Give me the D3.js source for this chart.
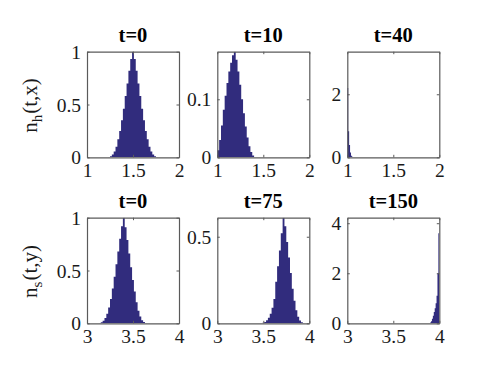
<!DOCTYPE html>
<html><head><meta charset="utf-8">
<script src="https://cdn.jsdelivr.net/npm/d3@7"></script>
<style>body{margin:0;background:#fff}svg{display:block}</style>
</head><body>
<script>
// ---- data ----
const titles = ["t=0","t=10","t=40","t=0","t=75","t=150"];
const yLabels = ["h","s"];
const yLabelArgs = ["(t,x)","(t,y)"];
const xDomains = [[1,2],[1,2],[1,2],[3,4],[3,4],[3,4]];
const yMax = [1, 0.182, 3.35, 1, 0.61, 4.22];
const xTicks = [[1,1.5,2],[1,1.5,2],[1,1.5,2],[3,3.5,4],[3,3.5,4],[3,3.5,4]];
const yTicks = [[0,0.5,1],[0,0.1],[0,2],[0,0.5,1],[0,0.5],[0,2,4]];
const binWidth = [0.02, 0.02, 0.01, 0.02, 0.02, 0.01];

// bin centres and heights for each panel
const h0X = [1.24,1.26,1.28,1.30,1.32,1.34,1.36,1.38,1.40,1.42,1.44,1.46,1.48,1.50,1.52,1.54,1.56,1.58,1.60,1.62,1.64,1.66,1.68,1.70,1.72,1.74,1.76];
const h0V = [0.004,0.011,0.027,0.055,0.10,0.17,0.25,0.35,0.46,0.58,0.70,0.82,0.93,1.0,0.93,0.82,0.70,0.58,0.46,0.35,0.25,0.17,0.10,0.055,0.027,0.011,0.004];
const h10X = [1.01,1.03,1.05,1.07,1.09,1.11,1.13,1.15,1.17,1.19,1.21,1.23,1.25,1.27,1.29,1.31,1.33,1.35,1.37,1.39];
const h10V = [0.012,0.030,0.055,0.082,0.106,0.128,0.148,0.163,0.176,0.182,0.168,0.148,0.125,0.100,0.076,0.053,0.034,0.019,0.009,0.003];
const h40X = [1.005,1.015,1.025,1.035,1.045,1.055];
const h40V = [2.2,0.83,0.39,0.15,0.05,0.015];
const s0X = [3.14,3.16,3.18,3.20,3.22,3.24,3.26,3.28,3.30,3.32,3.34,3.36,3.38,3.40,3.42,3.44,3.46,3.48,3.50,3.52,3.54,3.56,3.58,3.60,3.62,3.64];
const s0V = [0.004,0.01,0.025,0.05,0.09,0.15,0.23,0.33,0.44,0.56,0.68,0.80,0.92,1.0,0.91,0.79,0.66,0.53,0.41,0.30,0.20,0.12,0.065,0.03,0.012,0.004];
const s75X = [3.50,3.52,3.54,3.56,3.58,3.60,3.62,3.64,3.66,3.68,3.70,3.72,3.74,3.76,3.78,3.80,3.82,3.84,3.86,3.88,3.90,3.92,3.94];
const s75V = [0.003,0.008,0.017,0.032,0.055,0.09,0.14,0.24,0.33,0.42,0.52,0.61,0.56,0.47,0.38,0.29,0.20,0.13,0.075,0.038,0.016,0.006,0.002];
const s150X = [3.905,3.915,3.925,3.935,3.945,3.955,3.965,3.975,3.985,3.995];
const s150V = [0.03,0.08,0.18,0.30,0.45,0.60,0.80,1.1,2.0,3.6];

const seriesX = [h0X,h10X,h40X,s0X,s75X,s150X];
const seriesV = [h0V,h10V,h40V,s0V,s75V,s150V];

// ---- layout ----
const W = 494, H = 375;
const colX = [87, 217.3, 347.3];
const rowY = [51.7, 217.7];
const pw = 92, ph = 105.6;
const fill = "#312c7d";
const axisCol = "#5a5a5a";
const font = "Liberation Serif, Times New Roman, serif";

const svg = d3.select("body").append("svg").attr("width", W).attr("height", H)
  .style("font-family", font);

for (let i = 0; i < 6; i++) {
  const r = Math.floor(i / 3), c = i % 3;
  const x0 = colX[c], y0 = rowY[r];
  const x = d3.scaleLinear().domain(xDomains[i]).range([x0, x0 + pw]);
  const y = d3.scaleLinear().domain([0, yMax[i]]).range([y0 + ph, y0]);
  const g = svg.append("g");

  g.append("rect").attr("x", x0).attr("y", y0).attr("width", pw).attr("height", ph).attr("fill", "#fff");

  const clipId = "clip" + i;
  svg.append("clipPath").attr("id", clipId).append("rect")
    .attr("x", x0).attr("y", y0).attr("width", pw).attr("height", ph);

  // stepped histogram outline from the bins
  const bw = binWidth[i];
  const pts = [];
  seriesX[i].forEach((cx, k) => {
    pts.push([cx - bw / 2, seriesV[i][k]]);
    pts.push([cx + bw / 2, seriesV[i][k]]);
  });
  const area = d3.area().x(d => x(d[0])).y0(y(0)).y1(d => y(d[1]));
  g.append("path").attr("clip-path", `url(#${clipId})`)
    .attr("d", area(pts)).attr("fill", fill);

  // axes (ticks inward, mirrored on top/right)
  const tl = 2.5;
  const axB = d3.axisBottom(x).tickValues(xTicks[i]).tickSizeInner(-tl).tickSizeOuter(0).tickPadding(6).tickFormat(d3.format("~g"));
  const axT = d3.axisTop(x).tickValues(xTicks[i]).tickSizeInner(-tl).tickSizeOuter(0).tickFormat("");
  const axL = d3.axisLeft(y).tickValues(yTicks[i]).tickSizeInner(-tl).tickSizeOuter(0).tickPadding(6).tickFormat(d3.format("~g"));
  const axR = d3.axisRight(y).tickValues(yTicks[i]).tickSizeInner(-tl).tickSizeOuter(0).tickFormat("");

  const gb = g.append("g").attr("transform", `translate(0,${y0 + ph})`).call(axB);
  const gt = g.append("g").attr("transform", `translate(0,${y0})`).call(axT);
  const gl = g.append("g").attr("transform", `translate(${x0},0)`).call(axL);
  const gr = g.append("g").attr("transform", `translate(${x0 + pw},0)`).call(axR);
  [gb, gt, gl, gr].forEach(a => {
    a.attr("font-family", null).attr("font-size", null);
    a.select(".domain").attr("stroke", axisCol).attr("stroke-width", 1.2);
    a.selectAll(".tick line").attr("stroke", axisCol);
    a.selectAll("text").style("font-family", font).style("font-size", "19.5px").attr("fill", "#1a1a1a");
  });
  gb.selectAll("text").attr("dy", "0.68em");
  gl.selectAll("text").attr("dy", "0.34em");

  g.append("text").attr("x", x0 + pw / 2).attr("y", y0 - 9.5)
    .attr("text-anchor", "middle").style("font-family", font).style("font-size", "20.5px")
    .attr("font-weight", "bold").attr("fill", "#000").text(titles[i]);

  if (c === 0) {
    const cy = y0 + ph / 2 + 1;
    const t = g.append("text").attr("transform", `translate(37,${cy}) rotate(-90)`)
      .attr("text-anchor", "middle").style("font-family", font).style("font-size", "21px").attr("fill", "#1a1a1a");
    t.append("tspan").text("n");
    t.append("tspan").style("font-size", "15px").attr("dy", 5).text(yLabels[r]);
    t.append("tspan").attr("dy", -5).attr("dx", 1).text(yLabelArgs[r]);
  }
}
</script>
</body></html>
